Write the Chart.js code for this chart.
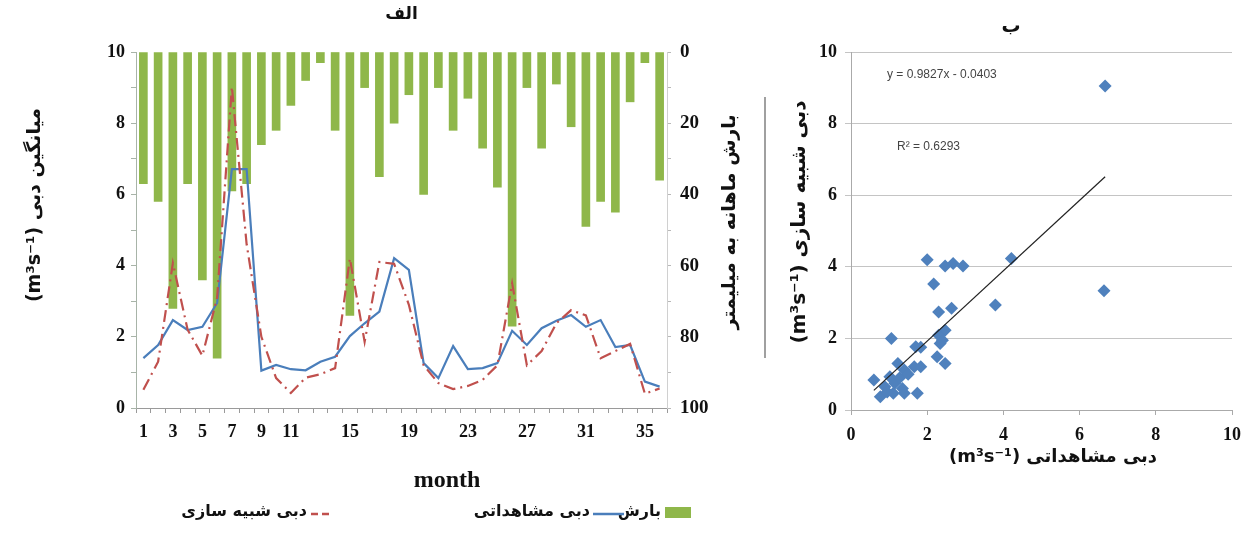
<!DOCTYPE html>
<html><head><meta charset="utf-8">
<script src="https://cdn.jsdelivr.net/npm/chart.js@4.4.1/dist/chart.umd.min.js"></script>
<style>
html,body{margin:0;padding:0;background:#fff;}
#wrap{position:relative;width:1251px;height:541px;overflow:hidden;}
#c1{position:absolute;left:0;top:0;}
#c2{position:absolute;left:760px;top:0;}
</style></head><body>
<div id="wrap"><canvas id="c1" width="760" height="541"></canvas><canvas id="c2" width="491" height="541"></canvas></div>
<script>
// ---------- data: panel الف ----------
const months = [1,2,3,4,5,6,7,8,9,10,11,12,13,14,15,16,17,18,19,20,21,22,23,24,25,26,27,28,29,30,31,32,33,34,35,36];
const shownMonthTicks = [1,3,5,7,9,11,15,19,23,27,31,35];
const precipitation = [37,42,72,37,64,86,39,37,26,22,15,8,3,22,74,10,35,20,12,40,10,22,13,27,38,77,10,27,9,21,49,42,45,14,3,36];
const observedFlow = [1.40,1.77,2.47,2.19,2.28,2.95,6.71,6.71,1.05,1.21,1.09,1.06,1.30,1.44,2.02,2.38,2.71,4.21,3.88,1.26,0.84,1.74,1.09,1.12,1.26,2.17,1.77,2.24,2.45,2.61,2.28,2.47,1.71,1.77,0.74,0.60];
const simulatedFlow = [0.51,1.30,4.07,2.20,1.47,3.10,9.02,4.60,2.00,0.84,0.42,0.85,0.95,1.12,4.20,1.86,4.10,4.05,2.90,1.20,0.70,0.53,0.62,0.79,1.20,3.50,1.20,1.60,2.38,2.75,2.60,1.40,1.60,1.80,0.40,0.55];
const leftTicks = [0,2,4,6,8,10];
const rightTicks = [0,20,40,60,80,100];

// ---------- data: panel ب ----------
const scatterObserved = [0.60,0.77,0.89,1.02,1.06,1.11,1.15,1.23,1.28,1.40,1.40,1.50,1.66,1.74,1.83,1.70,1.83,2.00,2.17,2.30,2.26,2.47,2.47,2.68,2.94,2.64,2.47,2.30,2.34,2.40,3.79,4.21,6.64,6.67,1.35,0.95];
const scatterSimulated = [0.84,0.37,0.65,0.93,2.00,0.47,0.75,1.30,0.90,0.47,1.12,1.00,1.21,0.47,1.21,1.77,1.75,4.20,3.52,2.74,1.49,1.30,4.02,4.09,4.02,2.84,2.23,2.09,1.86,1.95,2.93,4.23,3.33,9.05,0.60,0.50];
const trendSlope = 0.9827;
const trendIntercept = -0.0403;
const trendR2 = 0.6293;
const scatterTicks = [0,2,4,6,8,10];

// ---------- labels ----------
const titleA = 'الف';
const titleB = 'ب';
const labelPrecip = 'بارش';
const labelObs = 'دبی مشاهداتی';
const labelSim = 'دبی شبیه سازی';
const yTitleLeft = 'میانگین دبی (m³s⁻¹)';
const yTitleRight = 'بارش ماهانه به میلیمتر';
const xTitleLeft = 'month';
const yTitleScatter = 'دبی شبیه سازی (m³s⁻¹)';
const xTitleScatter = 'دبی مشاهداتی (m³s⁻¹)';

const GREEN = '#8fb74a', BLUE = '#4a7ebb', RED = '#c0504d', DIAMOND = '#4f81bd';
const serifBold = {family:"'Liberation Serif', 'DejaVu Serif', serif", size:18, weight:'bold'};
const PERSIAN = "'DejaVu Sans', sans-serif";

function rotText(ctx, txt, x, y, font) {
  ctx.save();
  ctx.translate(x, y);
  ctx.rotate(-Math.PI/2);
  ctx.font = font;
  ctx.direction = 'rtl';
  ctx.textAlign = 'center';
  ctx.textBaseline = 'middle';
  ctx.fillStyle = '#111';
  ctx.fillText(txt, 0, 0);
  ctx.restore();
}

const leftDecor = {
  id: 'leftDecor',
  afterDraw(chart) {
    const ctx = chart.ctx, ca = chart.chartArea;
    ctx.save();
    ctx.fillStyle = '#111';
    ctx.textBaseline = 'middle';
    ctx.textAlign = 'center';
    ctx.direction = 'rtl';
    ctx.font = 'bold 17px ' + PERSIAN;
    ctx.fillText(titleA, (ca.left + ca.right)/2, 15);
    ctx.direction = 'ltr';
    ctx.font = "bold 24px 'Liberation Serif', serif";
    ctx.fillText(xTitleLeft, 447, 481);
    ctx.restore();
    rotText(ctx, yTitleLeft, 35, 205, 'bold 19px ' + PERSIAN);
    rotText(ctx, yTitleRight, 730, 222, 'bold 19px ' + PERSIAN);
    // legend
    const ly = 512;
    ctx.save();
    ctx.font = 'bold 16px ' + PERSIAN;
    ctx.direction = 'rtl';
    ctx.textAlign = 'right';
    ctx.textBaseline = 'middle';
    ctx.fillStyle = '#111';
    ctx.fillText(labelSim, 307, ly);
    ctx.fillText(labelObs, 590, ly);
    ctx.fillText(labelPrecip, 661, ly);
    ctx.lineWidth = 2.5;
    ctx.strokeStyle = RED; ctx.setLineDash([7,4]);
    ctx.beginPath(); ctx.moveTo(311, ly+2); ctx.lineTo(332, ly+2); ctx.stroke();
    ctx.setLineDash([]);
    ctx.strokeStyle = BLUE;
    ctx.beginPath(); ctx.moveTo(593, ly+2); ctx.lineTo(624, ly+2); ctx.stroke();
    ctx.fillStyle = GREEN;
    ctx.fillRect(665, ly-5, 26, 11);
    ctx.restore();
  }
};

new Chart(document.getElementById('c1'), {
  type: 'bar',
  data: {
    labels: months,
    datasets: [
      {type:'line', label: labelSim, data: simulatedFlow, yAxisID:'y', borderColor: RED, borderWidth: 2.2,
       borderDash:[12,5,2,5], pointRadius:0, tension:0, order:0},
      {type:'line', label: labelObs, data: observedFlow, yAxisID:'y', borderColor: BLUE, borderWidth: 2.2,
       pointRadius:0, tension:0, order:1},
      {type:'bar', label: labelPrecip, data: precipitation, yAxisID:'y1', backgroundColor: GREEN,
       barThickness: 8, order:2}
    ]
  },
  options: {
    responsive:false, animation:false, devicePixelRatio:1,
    layout:{padding:{top:52,left:0,right:0,bottom:0}},
    plugins:{legend:{display:false}, tooltip:{enabled:false}},
    scales:{
      x:{offset:true,
         grid:{drawOnChartArea:false, tickLength:5, color:'#9a9a9a', offset:true},
         border:{color:'#9a9a9a'},
         ticks:{autoSkip:false, maxRotation:0, minRotation:0, padding:9, color:'#111', font:serifBold,
                callback:(v,i)=> shownMonthTicks.includes(months[i]) ? String(months[i]) : ''},
         afterFit:s=>{s.height=133;}},
      y:{position:'left', min:0, max:10,
         grid:{drawOnChartArea:false, tickLength:5, color:'#a8b4a8'},
         border:{color:'#a8b4a8'},
         ticks:{stepSize:1, padding:6, color:'#111', font:serifBold,
                callback:v=> leftTicks.includes(v) ? String(v) : ''},
         afterFit:s=>{s.width=136;}},
      y1:{position:'right', reverse:true, min:0, max:100,
         grid:{drawOnChartArea:false, tickLength:4, color:'#b8b8b8'},
         border:{color:'#d0d0d0'},
         ticks:{stepSize:10, padding:9, color:'#111', font:{family:serifBold.family, size:19, weight:'bold'},
                callback:v=> rightTicks.includes(v) ? String(v) : ''},
         afterFit:s=>{s.width=93;}}
    }
  },
  plugins:[leftDecor]
});

// ---------- panel ب ----------
const scatterPoints = scatterObserved.map((x,i)=>({x:x, y:scatterSimulated[i]}));
const tMin = Math.min(...scatterObserved), tMax = Math.max(...scatterObserved);
const trendPoints = [tMin, tMax].map(x=>({x:x, y:trendSlope*x + trendIntercept}));

const rightDecor = {
  id:'rightDecor',
  afterDraw(chart) {
    const ctx = chart.ctx;
    ctx.save();
    ctx.fillStyle = '#111';
    ctx.textBaseline = 'middle';
    ctx.textAlign = 'center';
    ctx.direction = 'rtl';
    ctx.font = 'bold 19px ' + PERSIAN;
    ctx.fillText(titleB, 251, 27);
    ctx.font = 'bold 18px ' + PERSIAN;
    ctx.fillText(xTitleScatter, 293, 457);
    ctx.direction = 'ltr';
    ctx.textAlign = 'left';
    ctx.fillStyle = '#444';
    ctx.font = "12px 'Liberation Sans', sans-serif";
    ctx.fillText('y = ' + trendSlope + 'x - ' + Math.abs(trendIntercept), 127, 75);
    ctx.fillText('R² = ' + trendR2, 137, 147);
    ctx.strokeStyle = '#a0a0a0';
    ctx.lineWidth = 2;
    ctx.beginPath(); ctx.moveTo(5, 97); ctx.lineTo(5, 358); ctx.stroke();
    ctx.restore();
    rotText(ctx, yTitleScatter, 40, 222, 'bold 20px ' + PERSIAN);
  }
};

new Chart(document.getElementById('c2'), {
  type:'scatter',
  data:{datasets:[
    {type:'line', data: trendPoints, borderColor:'#222', borderWidth:1.2, pointRadius:0, order:0},
    {type:'scatter', data: scatterPoints, pointStyle:'rectRot', pointRadius:6.5,
     backgroundColor: DIAMOND, borderColor: DIAMOND, borderWidth:0, order:1}
  ]},
  options:{
    responsive:false, animation:false, devicePixelRatio:1,
    layout:{padding:{top:52,left:0,right:13,bottom:0}},
    plugins:{legend:{display:false}, tooltip:{enabled:false}},
    scales:{
      x:{type:'linear', min:0, max:10,
         grid:{drawOnChartArea:false, tickLength:5, color:'#aaa'},
         border:{color:'#aaa'},
         ticks:{stepSize:2, padding:10, color:'#111', font:serifBold,
                callback:v=> scatterTicks.includes(v) ? String(v) : ''},
         afterFit:s=>{s.height=131;}},
      y:{type:'linear', min:0, max:10,
         grid:{color:'#c4c4c4', tickLength:6},
         border:{color:'#aaa'},
         ticks:{stepSize:2, padding:8, color:'#111', font:serifBold,
                callback:v=> scatterTicks.includes(v) ? String(v) : ''},
         afterFit:s=>{s.width=91;}}
    }
  },
  plugins:[rightDecor]
});
</script>
</body></html>
